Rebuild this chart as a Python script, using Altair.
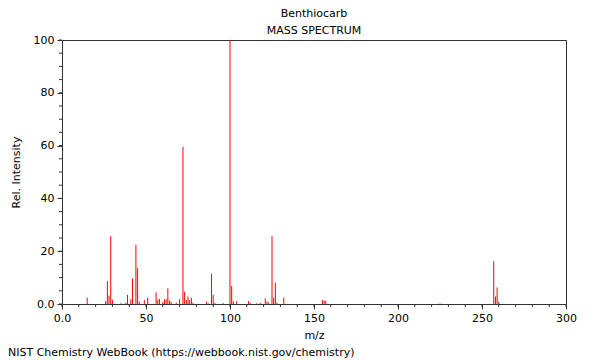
import altair as alt
import pandas as pd

mz = [15, 26, 27, 28, 29, 30, 35, 38, 39, 41, 42, 44, 45, 46, 49, 51, 56, 57, 58, 60,
      61, 62, 63, 64, 65, 68, 70, 72, 73, 74, 75, 76, 77, 78, 86, 87, 89, 90, 91, 96,
      100, 101, 102, 104, 111, 112, 116, 118, 121, 122, 123, 125, 126, 127, 128, 132,
      155, 156, 157, 225, 257, 258, 259, 260]
intensity = [2.4, 1.1, 8.7, 3.2, 25.7, 1.6, 0.3, 0.5, 3.4, 1.8, 9.7, 22.4, 13.6, 0.9, 1.5, 2.4, 4.4, 1.6, 1.9, 0.8,
             1.8, 1.8, 5.9, 1.3, 0.8, 0.5, 1.8, 59.5, 4.7, 1.5, 2.8, 1.5, 2.4, 0.5, 0.9, 0.3, 11.4, 3.4, 0.4, 0.3,
             100.0, 6.8, 1.0, 1.1, 1.1, 0.5, 0.3, 0.4, 2.1, 0.9, 0.6, 25.7, 2.4, 8.1, 0.5, 2.4,
             1.5, 1.3, 1.2, 0.2, 16.2, 2.8, 6.3, 0.9]

x_minor = list(range(0, 301, 10))
y_minor = list(range(0, 101, 5))

df = pd.DataFrame({"mz": mz, "intensity": intensity})
font = "DejaVu Sans"

xscale = alt.Scale(domain=[0, 300], nice=False)
yscale = alt.Scale(domain=[0, 100], nice=False)

peaks = alt.Chart(df).mark_rule(color="#ff0000", strokeWidth=1).encode(
    x=alt.X("mz:Q", scale=xscale,
            axis=alt.Axis(title="m/z", values=[0, 50, 100, 150, 200, 250, 300],
                          labelExpr="datum.value == 0 ? '0.0' : datum.label",
                          grid=False, tickSize=5, labelPadding=3, titlePadding=6,
                          labelFlush=False, domain=False)),
    y=alt.Y("intensity:Q", scale=yscale,
            axis=alt.Axis(title="Rel. Intensity", values=[0, 20, 40, 60, 80, 100],
                          labelExpr="datum.value == 0 ? '0.0' : datum.label",
                          grid=False, tickSize=5, labelPadding=3, titlePadding=12,
                          labelFlush=False, domain=False)),
    y2=alt.datum(0),
)

xm = alt.Chart(pd.DataFrame({"v": x_minor})).mark_rule(color="#333333", strokeWidth=1).encode(
    x=alt.X("v:Q", scale=xscale), y=alt.value(264), y2=alt.value(267))
ym = alt.Chart(pd.DataFrame({"v": y_minor})).mark_rule(color="#333333", strokeWidth=1).encode(
    y=alt.Y("v:Q", scale=yscale), x=alt.value(0), x2=alt.value(-3))

footer = alt.Chart(pd.DataFrame({"t": ["NIST Chemistry WebBook (https://webbook.nist.gov/chemistry)"]})).mark_text(
    align="left", baseline="middle", font=font, fontSize=11, color="#000000").encode(
    text="t:N", x=alt.value(-54), y=alt.value(313))

chart = alt.layer(peaks, xm, ym, footer).properties(
    width=504, height=264,
    title=alt.TitleParams(text="Benthiocarb", subtitle="MASS SPECTRUM", anchor="middle",
                          font=font, fontSize=11, fontWeight="normal", color="#000000",
                          subtitleFont=font, subtitleFontSize=11, subtitleColor="#000000",
                          subtitlePadding=6, offset=-2),
    padding={"left": 54, "top": 32, "right": 26, "bottom": 58},
    autosize=alt.AutoSizeParams(type="none"),
).configure_view(stroke="#333333", strokeWidth=1).configure_axis(
    labelFont=font, titleFont=font, labelFontSize=11, titleFontSize=11,
    labelColor="#000000", titleColor="#000000", titleFontWeight="normal",
    tickColor="#333333",
)

chart.save("out.html", embed_options={"renderer": "svg", "actions": False})
